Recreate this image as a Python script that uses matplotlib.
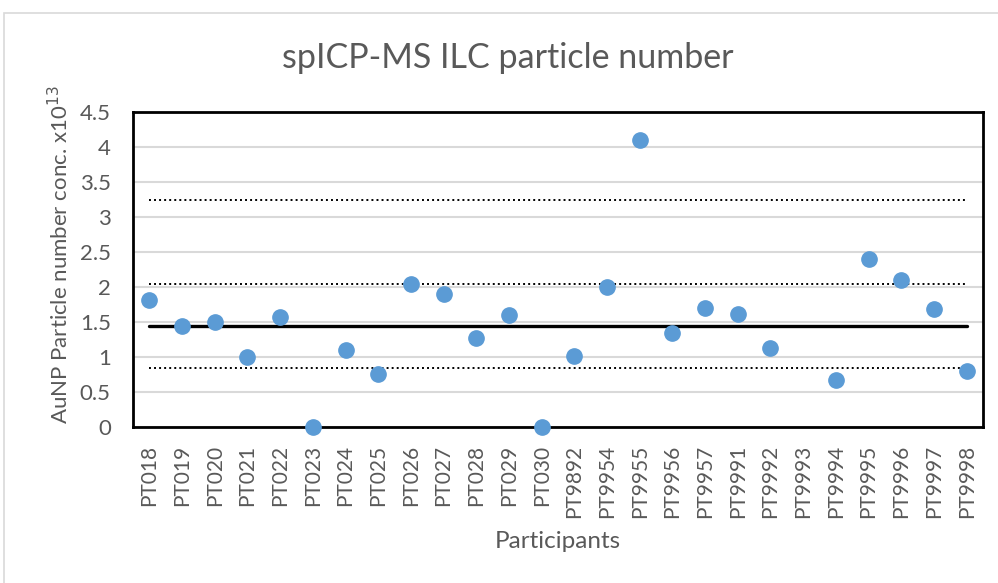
import numpy as np
import matplotlib
matplotlib.use("Agg")
import matplotlib.pyplot as plt
from matplotlib.patches import Rectangle

# data
participants = ["PT018", "PT019", "PT020", "PT021", "PT022", "PT023", "PT024",
                "PT025", "PT026", "PT027", "PT028", "PT029", "PT030", "PT9892",
                "PT9954", "PT9955", "PT9956", "PT9957", "PT9991", "PT9992",
                "PT9993", "PT9994", "PT9995", "PT9996", "PT9997", "PT9998"]
conc = [1.81, 1.45, 1.50, 1.00, 1.57, 0.0, 1.10,
        0.76, 2.04, 1.90, 1.27, 1.60, 0.0, 1.01,
        2.00, 4.10, 1.34, 1.70, 1.61, 1.13,
        np.nan, 0.67, 2.40, 2.10, 1.69, 0.80]
assigned_value = 1.44
limit_lines = [0.84, 2.04, 3.24]
yticks = [0, 0.5, 1, 1.5, 2, 2.5, 3, 3.5, 4, 4.5]

text_col = "#595959"
plt.rcParams["font.family"] = ["Lato", "DejaVu Sans"]

fig = plt.figure(figsize=(9.98, 5.83), dpi=100)
fig.patches.append(Rectangle((4 / 998, -0.1), 1.2, 1 - 13 / 583 + 0.1,
                             transform=fig.transFigure, fill=False,
                             edgecolor="#d9d9d9", linewidth=1.2))
ax = fig.add_axes([133 / 998, 1 - 427 / 583, 850 / 998, 315 / 583])

x = np.arange(len(participants))
ax.set_xlim(-0.5, len(participants) - 0.5)
ax.set_ylim(0, 4.5)
ax.set_yticks(yticks)
ax.set_yticklabels([f"{v:g}" for v in yticks])
ax.yaxis.grid(True, color="#d9d9d9", linewidth=1.5, zorder=0)
ax.set_axisbelow(True)

ax.plot(x[[0, -1]], [assigned_value] * 2, color="black", linewidth=2.4,
        solid_capstyle="round", zorder=2)
for v in limit_lines:
    ax.plot(x[[0, -1]], [v] * 2, color="black", linewidth=1.4,
            linestyle=(0, (1, 1.6)), zorder=2)

ax.plot(x, conc, linestyle="none", marker="o", markersize=11,
        color="#5b9bd5", markeredgecolor="#5b9bd5", clip_on=False, zorder=3)

ax.set_xticks(x)
ax.set_xticklabels(participants, rotation=90)
ax.tick_params(axis="both", length=0, colors=text_col)
ax.tick_params(axis="x", pad=13, labelsize=15)
ax.tick_params(axis="y", pad=16, labelsize=16)
for s in ax.spines.values():
    s.set_linewidth(2)
    s.set_color("black")

fig.text(508 / 998, 1 - 58 / 583, "spICP-MS ILC particle number",
         fontsize=24.5, color=text_col, ha="center", va="center")
fig.text(558 / 998, 1 - 541 / 583, "Participants",
         fontsize=17.5, color=text_col, ha="center", va="center")
fig.text(60 / 998, 1 - 255 / 583, "AuNP Particle number conc. x10$^{13}$",
         fontsize=16, color=text_col, ha="center", va="center", rotation=90)

fig.savefig("out.png", dpi=100)
